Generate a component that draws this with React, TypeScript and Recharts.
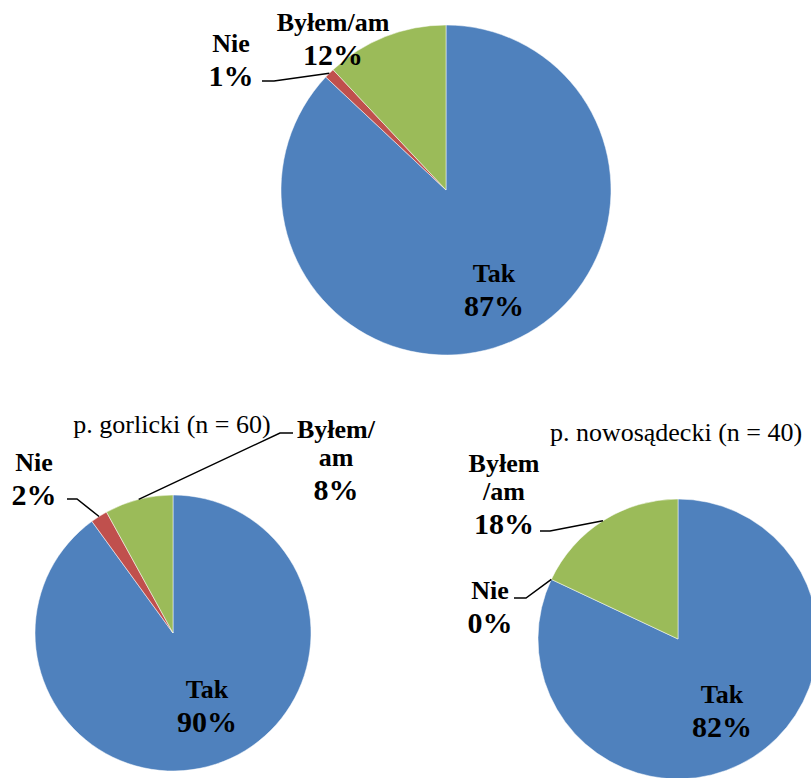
import React from 'react';
import { PieChart, Pie, Cell } from 'recharts';

const CATEGORIES = ['Tak', 'Nie', 'Byłem/am'];
const COLORS = ['#4F81BD', '#C0504D', '#9BBB59'];

const TOTAL_VALUES = [87, 1, 12];
const GORLICKI_VALUES = [90, 2, 8];
const NOWOSADECKI_VALUES = [82, 0, 18];

const GORLICKI_TITLE = 'p. gorlicki (n = 60)';
const NOWOSADECKI_TITLE = 'p. nowosądecki (n = 40)';

const toRows = (values: number[]) => CATEGORIES.map((name, i) => ({ name, value: values[i] }));

// label layout: offsets from the pie centre, name lines, optional leader (elbow + end)
interface LabelSpec {
  dx: number;
  dy: number;
  lines: string[];
  elbow?: [number, number];
  endX?: number;
}

const TOTAL_LABELS: LabelSpec[] = [
  { dx: 48, dy: 83, lines: ['Tak'] },
  { dx: -215, dy: -147, lines: ['Nie'], elbow: [-172, -109], endX: -184 },
  { dx: -113, dy: -168, lines: ['Byłem/am'] },
];

const GORLICKI_LABELS: LabelSpec[] = [
  { dx: 34, dy: 56, lines: ['Tak'] },
  { dx: -139, dy: -171, lines: ['Nie'], elbow: [-96, -134], endX: -106 },
  { dx: 163, dy: -204, lines: ['Byłem/', 'am'], elbow: [107, -200], endX: 120 },
];

const NOWOSADECKI_LABELS: LabelSpec[] = [
  { dx: 44, dy: 55, lines: ['Tak'] },
  { dx: -188, dy: -49, lines: ['Nie'], elbow: [-152, -41], endX: -164 },
  { dx: -174, dy: -176, lines: ['Byłem', '/am'], elbow: [-128, -108], endX: -138 },
];

const FONT = '"Liberation Serif"';
const RAD = Math.PI / 180;

const makeLabel = (specs: LabelSpec[]) => (props: any) => {
  const { cx, cy, midAngle, outerRadius, index, value } = props;
  const spec = specs[index];
  if (!spec) return null;
  const x = cx + spec.dx;
  let y = cy + spec.dy;
  const parts: React.ReactNode[] = [];
  spec.lines.forEach((line, i) => {
    if (i > 0) y += 28;
    parts.push(
      <text key={`n${i}`} x={x} y={y + 8.6} textAnchor="middle" fontFamily={FONT} fontWeight="bold" fontSize={26} fill="#000">
        {line}
      </text>
    );
  });
  y += 33;
  parts.push(
    <text key="p" x={x} y={y + 10} textAnchor="middle" fontFamily={FONT} fontWeight="bold" fontSize={30} fill="#000">
      {`${value}%`}
    </text>
  );
  if (spec.elbow && spec.endX !== undefined) {
    const sx = cx + outerRadius * Math.cos(-midAngle * RAD);
    const sy = cy + outerRadius * Math.sin(-midAngle * RAD);
    const ex = cx + spec.elbow[0];
    const ey = cy + spec.elbow[1];
    parts.push(
      <polyline
        key="l"
        points={`${sx},${sy} ${ex},${ey} ${cx + spec.endX},${ey}`}
        fill="none"
        stroke="#000"
        strokeWidth={1.5}
      />
    );
  }
  return <g>{parts}</g>;
};

export default function App() {
  return (
    <div style={{ position: 'absolute', left: 0, top: 0, width: 811, height: 778, background: '#fff' }}>
      <PieChart width={811} height={778} margin={{ top: 0, right: 0, bottom: 0, left: 0 }}>
        <Pie
          data={toRows(TOTAL_VALUES)}
          dataKey="value"
          nameKey="name"
          cx={446}
          cy={190}
          outerRadius={165}
          startAngle={90}
          endAngle={-270}
          stroke="#fff"
          strokeWidth={0.5}
          label={makeLabel(TOTAL_LABELS)}
          labelLine={false}
          isAnimationActive={false}
        >
          {TOTAL_VALUES.map((_, i) => (
            <Cell key={`t-${i}`} fill={COLORS[i]} />
          ))}
        </Pie>
        <Pie
          data={toRows(GORLICKI_VALUES)}
          dataKey="value"
          nameKey="name"
          cx={173}
          cy={633}
          outerRadius={138}
          startAngle={90}
          endAngle={-270}
          stroke="#fff"
          strokeWidth={0.5}
          label={makeLabel(GORLICKI_LABELS)}
          labelLine={false}
          isAnimationActive={false}
        >
          {GORLICKI_VALUES.map((_, i) => (
            <Cell key={`g-${i}`} fill={COLORS[i]} />
          ))}
        </Pie>
        <Pie
          data={toRows(NOWOSADECKI_VALUES)}
          dataKey="value"
          nameKey="name"
          cx={678}
          cy={639}
          outerRadius={140}
          startAngle={90}
          endAngle={-270}
          stroke="#fff"
          strokeWidth={0.5}
          label={makeLabel(NOWOSADECKI_LABELS)}
          labelLine={false}
          isAnimationActive={false}
        >
          {NOWOSADECKI_VALUES.map((_, i) => (
            <Cell key={`n-${i}`} fill={COLORS[i]} />
          ))}
        </Pie>
        <text x={172} y={433} textAnchor="middle" fontFamily={FONT} fontSize={26} fill="#000">
          {GORLICKI_TITLE}
        </text>
        <text x={676} y={441} textAnchor="middle" fontFamily={FONT} fontSize={26} fill="#000">
          {NOWOSADECKI_TITLE}
        </text>
      </PieChart>
    </div>
  );
}
